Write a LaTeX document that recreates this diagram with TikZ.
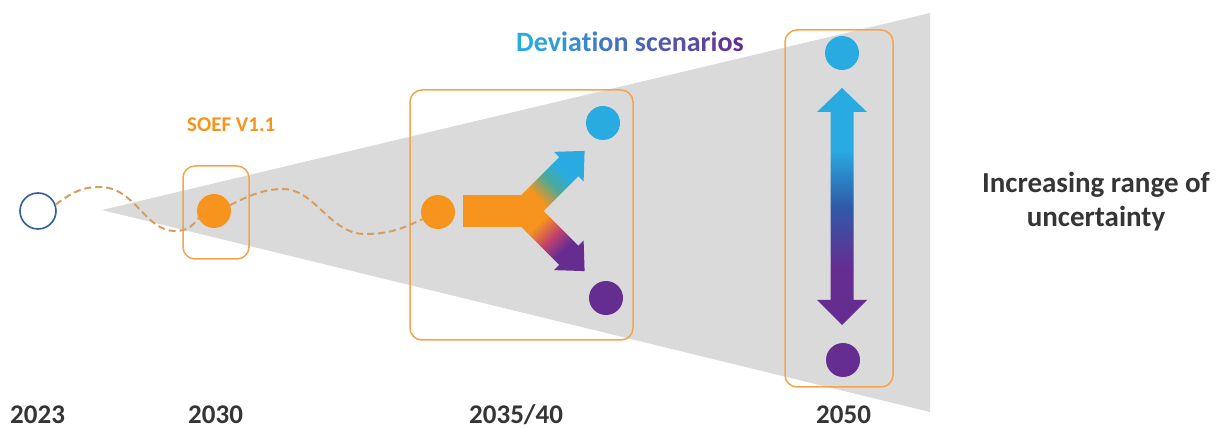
\documentclass[tikz,border=0pt]{standalone}
\usepackage{fontspec}
\setmainfont{Carlito}
\definecolor{orangeC}{HTML}{F7941D}
\definecolor{blueC}{HTML}{29ABE2}
\definecolor{purpleC}{HTML}{662D91}
\definecolor{midblueC}{HTML}{2E5BA8}
\definecolor{boxC}{HTML}{F2A54A}
\definecolor{dashC}{HTML}{D69E62}
\definecolor{greyC}{HTML}{DADADA}
\definecolor{ringC}{HTML}{2F5E9C}
\definecolor{textC}{HTML}{353535}
\definecolor{tealC}{HTML}{4AA99A}
\definecolor{magC}{HTML}{C2416E}
\pgfdeclareverticalshading{upgrad}{100bp}{color(0bp)=(orangeC); color(42bp)=(orangeC); color(55bp)=(tealC); color(66bp)=(blueC); color(100bp)=(blueC)}
\pgfdeclareverticalshading{downgrad}{100bp}{color(0bp)=(purpleC); color(34bp)=(purpleC); color(45bp)=(magC); color(58bp)=(orangeC); color(100bp)=(orangeC)}
\pgfdeclareverticalshading{vgrad}{100bp}{color(0bp)=(purpleC); color(37bp)=(purpleC); color(50bp)=(midblueC); color(62bp)=(blueC); color(100bp)=(blueC)}
\newcommand{\gl}[2]{\textcolor{blueC!#1!purpleC}{#2}}
\newcommand{\fsz}[1]{\fontsize{#1pt}{#1pt}\selectfont\bfseries}
\begin{document}
\begin{tikzpicture}[x=1pt,y=-1pt,
  dot/.style={circle,inner sep=0pt,minimum size=34pt},
  boxframe/.style={draw=boxC,line width=1.5pt,rounded corners=12pt,inner sep=0pt},
  dashline/.style={draw=dashC,line width=2pt,dash pattern=on 7pt off 4pt},
  year/.style={anchor=base west,inner sep=0pt,text=textC,font=\fsz{27}}]
\useasboundingbox (0,0) rectangle (1219,430);
% uncertainty cone
\fill[greyC] (102,210) -- (930,13) -- (930,412) -- cycle;
% frames
\node[boxframe,minimum width=66pt,minimum height=93pt] (f2030) at (216,212.5) {};
\node[boxframe,minimum width=223pt,minimum height=250pt] (f2035) at (521.5,215) {};
\node[boxframe,minimum width=108pt,minimum height=357pt] (f2050) at (839,208.5) {};
% dots
\node[circle,inner sep=0pt,minimum size=36pt,draw=ringC,line width=1.6pt,fill=white] (c0) at (38,211) {};
\node[dot,fill=orangeC] (c1) at (214,211) {};
\node[dot,fill=orangeC] (c2) at (438,212) {};
\node[dot,fill=blueC] (c3) at (603,123) {};
\node[dot,fill=purpleC] (c4) at (606,298) {};
\node[dot,fill=blueC] (c5) at (842,53) {};
\node[dot,fill=purpleC] (c6) at (843,360) {};
% dashed paths
\draw[dashline] (c0.20) .. controls (75,190) and (85,187) .. (100,187)
  .. controls (135,187) and (145,231) .. (175,231)
  .. controls (186,231) and (192,227) .. (c1.205);
\draw[dashline] (c1.20) .. controls (250,195) and (265,189) .. (283,189)
  .. controls (315,189) and (330,234) .. (365,234)
  .. controls (392,234) and (405,227) .. (c2.205);
% branching arrow
\shade[shading=upgrad,shading angle=-45] (507.88,208.53) -- (559.21,157.19) -- (553.91,151.89) -- (584.60,150.90) -- (583.61,181.59) -- (578.31,176.29) -- (526.98,227.62) -- cycle;
\shade[shading=downgrad,shading angle=45] (507.88,213.47) -- (559.21,264.81) -- (553.91,270.11) -- (584.60,271.10) -- (583.61,240.41) -- (578.31,245.71) -- (526.98,194.38) -- cycle;
\fill[orangeC] (463,195) rectangle (527,227);
% double arrow 2050
\shade[shading=vgrad] (842,88) -- (867,112) -- (853.5,112) -- (853.5,300) -- (867,300) -- (842,325) -- (817,300) -- (830.5,300) -- (830.5,112) -- (817,112) -- cycle;
% labels
\node[anchor=base west,inner sep=0pt,text=orangeC,font=\fsz{21}] (soef) at (187,132) {SOEF V1.1};
\node[anchor=base west,inner sep=0pt,font=\fsz{28}] (dev) at (516,52) {\gl{100}{D}\gl{94}{e}\gl{88}{v}\gl{82}{i}\gl{76}{a}\gl{71}{t}\gl{65}{i}\gl{59}{o}\gl{53}{n} \gl{47}{s}\gl{41}{c}\gl{35}{e}\gl{29}{n}\gl{24}{a}\gl{18}{r}\gl{12}{i}\gl{6}{o}\gl{0}{s}};
\node[anchor=base,inner sep=0pt,text=textC,font=\fsz{29}] (inc1) at (1096,193) {Increasing range of};
\node[anchor=base,inner sep=0pt,text=textC,font=\fsz{29}] (inc2) at (1096,227) {uncertainty};
\node[year] (y2023) at (10,424) {2023};
\node[year] (y2030) at (188,424) {2030};
\node[year] (y2035) at (469,424) {2035/40};
\node[year] (y2050) at (816,424) {2050};
\end{tikzpicture}
\end{document}
